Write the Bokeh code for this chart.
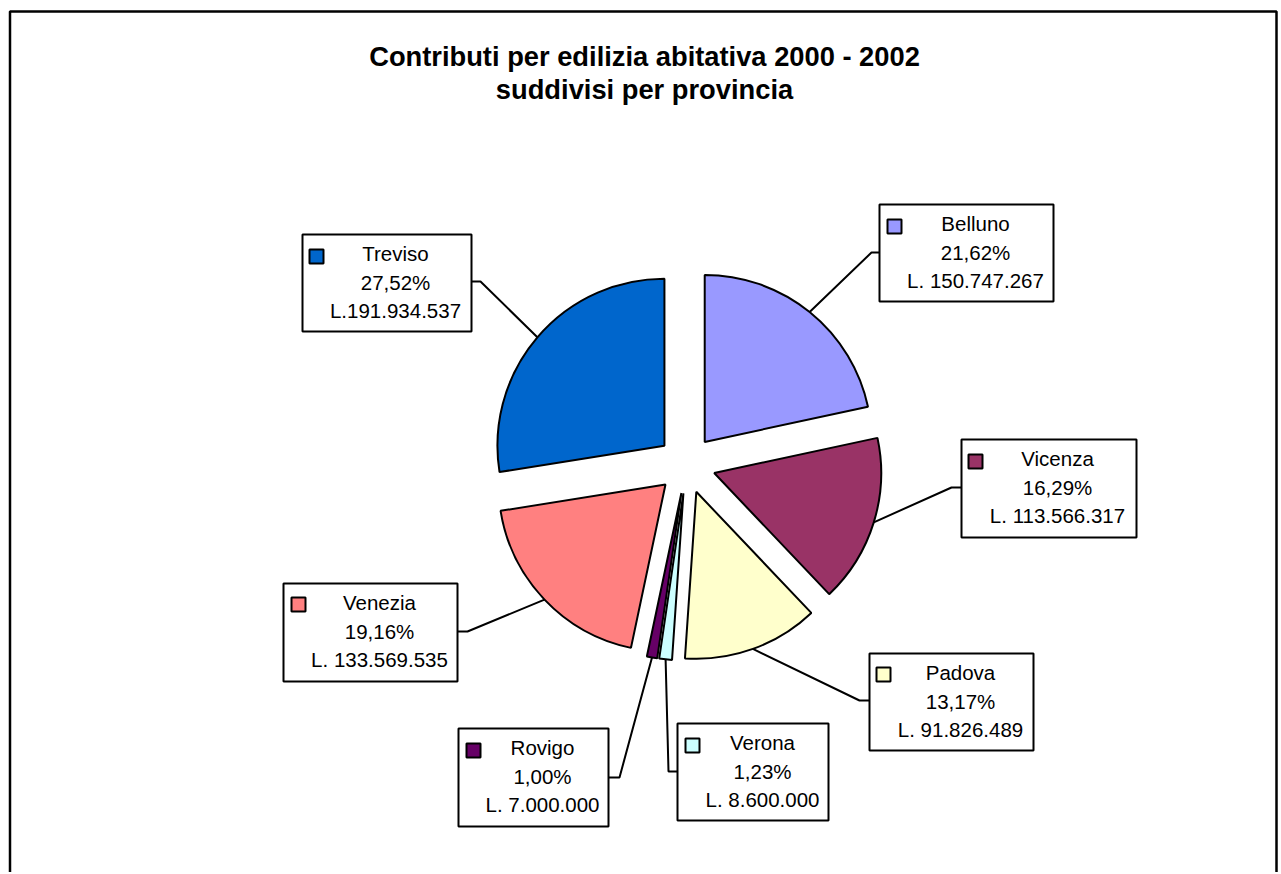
import math
from bokeh.plotting import figure
from bokeh.models import Range1d
from bokeh.embed import file_html
from bokeh.resources import INLINE
from bokeh.core.properties import value

# ---------------- data ----------------
provinces = ["Belluno", "Vicenza", "Padova", "Verona", "Rovigo", "Venezia", "Treviso"]
shares = [21.62, 16.29, 13.17, 1.23, 1.00, 19.16, 27.52]
amounts = ["L. 150.747.267", "L. 113.566.317", "L. 91.826.489", "L. 8.600.000",
           "L. 7.000.000", "L. 133.569.535", "L.191.934.537"]
colors = ["#9999FF", "#993366", "#FFFFCC", "#CCFFFF", "#660066", "#FF8080", "#0066CC"]
title_lines = ["Contributi per edilizia abitativa 2000 - 2002", "suddivisi per provincia"]

# ---------------- layout (screen pixel positions of the reference) ----------------
W, H = 1279, 872
def sx(X): return X
def sy(Y): return H - Y

CX, CY = 686, 464       # pie centre (screen)
R = 167                 # radius
EXPLODE = 29            # explosion distance

# label boxes: left, right, top, bottom, marker-left, marker-top, text-centre-x, elbow(x,y), box side(x,y)
boxes = {
    "Belluno": (879, 1053, 204, 301, 887, 219, 975, (871, 252), (879, 252)),
    "Vicenza": (961, 1136, 439, 537, 968, 454, 1057, (951, 487), (961, 487)),
    "Padova":  (869, 1033, 653, 750, 876, 667, 960, (859, 700), (869, 700)),
    "Verona":  (677, 828, 723, 820, 685, 738, 762, (668, 771), (677, 771)),
    "Rovigo":  (458, 608, 728, 826, 466, 743, 542, (619, 777), (608, 777)),
    "Venezia": (283, 457, 583, 681, 291, 597, 379, (467, 631), (457, 631)),
    "Treviso": (302, 471, 234, 331, 309, 249, 395, (480, 281), (471, 281)),
}

p = figure(width=W, height=H, output_backend="svg", toolbar_location=None,
           x_range=Range1d(0, W), y_range=Range1d(0, H),
           x_axis_type=None, y_axis_type=None, min_border=0)
p.grid.visible = False
p.outline_line_color = None
p.background_fill_color = "white"
p.border_fill_color = "white"

# outer frame (bottom edge lies below the window)
p.line([sx(9.5), sx(9.5), sx(1276), sx(1276)], [-20, sy(11), sy(11), -20],
       line_color="black", line_width=2.5)

# title
font = value("Liberation Sans")
p.text(x=[sx(644)], y=[sy(56)], text=[title_lines[0]], text_font=font,
       text_font_style="bold", text_font_size="27.3px", text_align="center",
       text_baseline="alphabetic", text_color="black")
p.text(x=[sx(644)], y=[sy(89)], text=[title_lines[1]], text_font=font,
       text_font_style="bold", text_font_size="27.3px", text_align="center",
       text_baseline="alphabetic", text_color="black")

total = sum(shares)
cum = 0.0
ccx, ccy = sx(CX), sy(CY)
for name, s, amt, col in zip(provinces, shares, amounts, colors):
    a1 = cum / total * 2 * math.pi
    cum += s
    a2 = cum / total * 2 * math.pi
    mid = (a1 + a2) / 2
    ax = ccx + EXPLODE * math.sin(mid)
    ay = ccy + EXPLODE * math.cos(mid)
    p.wedge(x=[ax], y=[ay], radius=R, start_angle=math.pi / 2 - a1,
            end_angle=math.pi / 2 - a2, direction="clock",
            fill_color=col, line_color="black", line_width=2)
    # leader line
    px_ = ax + R * math.sin(mid)
    py_ = ay + R * math.cos(mid)
    L, Rr, T, B, mx, my, tcx, elbow, side = boxes[name]
    p.line([px_, sx(elbow[0]), sx(side[0])], [py_, sy(elbow[1]), sy(side[1])],
           line_color="black", line_width=2)
    # box
    p.quad(left=[sx(L)], right=[sx(Rr)], top=[sy(T)], bottom=[sy(B)],
           fill_color="white", line_color="black", line_width=2)
    # legend key
    p.quad(left=[sx(mx)], right=[sx(mx + 14)], top=[sy(my)], bottom=[sy(my + 14)],
           fill_color=col, line_color="black", line_width=2)
    pct = f"{s:.2f}".replace(".", ",") + "%"
    for k, t in enumerate([name, pct, amt]):
        p.text(x=[sx(tcx)], y=[sy(T + 19 + 28.5 * k)], text=[t], text_font=font,
               text_font_size="20.5px", text_align="center",
               text_baseline="alphabetic", text_color="black")

open("out.html", "w").write(file_html(p, INLINE))
